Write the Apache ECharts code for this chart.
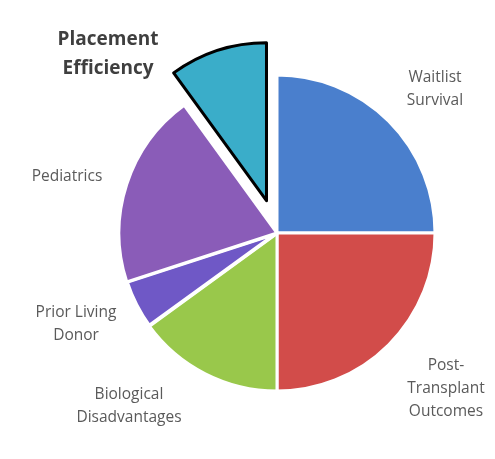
<!DOCTYPE html>
<html>
<head>
<meta charset="utf-8">
<script src="https://cdn.jsdelivr.net/npm/echarts@6/dist/echarts.min.js"></script>
<style>
  html, body { margin: 0; padding: 0; background: #fff; }
  #chart { width: 495px; height: 459px; }
</style>
</head>
<body>
<div id="chart"></div>
<script>
// Share of the allocation score given to each factor (%)
const categories = [
  'Waitlist\nSurvival',
  'Post-\nTransplant\nOutcomes',
  'Biological\nDisadvantages',
  'Prior Living\nDonor',
  'Pediatrics',
  'Placement\nEfficiency'
];
const shares = [25, 25, 15, 5, 20, 10];
const highlighted = 'Placement\nEfficiency';

const colors = ['#4a7fcd', '#d24c4a', '#99c84b', '#6f58c6', '#8a5cb8', '#3aadc9'];

// Where each factor's caption sits around the pie (centre of the text block)
const labelSpots = [
  { x: 435, y: 89 },
  { x: 446, y: 389 },
  { x: 129, y: 406 },
  { x: 76, y: 324 },
  { x: 67, y: 177 },
  { x: 108, y: 54 }
];

const data = categories.map((name, i) => {
  const isHi = name === highlighted;
  return {
    name: name,
    value: shares[i],
    selected: isHi,
    itemStyle: {
      color: colors[i],
      borderColor: isHi ? '#000' : '#fff',
      borderWidth: isHi ? 3 : (i === 3 ? 4 : 3)
    }
  };
});

// Captions drawn as free text blocks next to their slices
const captions = categories.map((name, i) => {
  const isHi = name === highlighted;
  return {
    type: 'text',
    x: labelSpots[i].x,
    y: labelSpots[i].y,
    style: {
      text: name,
      fontFamily: '"Open Sans", sans-serif',
      fontSize: isHi ? 19 : 15.5,
      fontWeight: isHi ? 'bold' : 'normal',
      lineHeight: isHi ? 29 : 23,
      fill: isHi ? '#3f3f3f' : '#5a5a5a',
      align: 'center',
      verticalAlign: 'middle'
    }
  };
});

const chart = echarts.init(document.getElementById('chart'), null, { renderer: 'canvas' });
chart.setOption({
  backgroundColor: '#fff',
  animation: false,
  graphic: captions,
  series: [{
    type: 'pie',
    center: [277, 233],
    radius: 158,
    startAngle: 90,
    clockwise: true,
    selectedMode: 'single',
    selectedOffset: 34,
    emphasis: { disabled: true },
    label: { show: false },
    labelLine: { show: false },
    data: data
  }]
});
</script>
</body>
</html>
